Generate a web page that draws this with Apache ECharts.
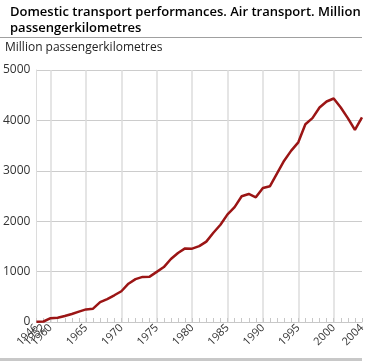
<!DOCTYPE html>
<html>
<head>
<meta charset="utf-8">
<script src="https://cdn.jsdelivr.net/npm/echarts@6/dist/echarts.min.js"></script>
<style>html,body{margin:0;padding:0;background:#fff;}#c{width:368px;height:361px;}</style>
</head>
<body>
<div id="c"></div>
<script>
var titleText = 'Domestic transport performances. Air transport. Million\npassengerkilometres';
var unitText = 'Million passengerkilometres';
var years = ['1946','1952','1960','1961','1962','1963','1964','1965','1966','1967','1968','1969','1970','1971','1972','1973','1974','1975','1976','1977','1978','1979','1980','1981','1982','1983','1984','1985','1986','1987','1988','1989','1990','1991','1992','1993','1994','1995','1996','1997','1998','1999','2000','2001','2002','2003','2004'];
var values = [5,10,75,85,120,160,205,250,265,395,455,530,610,760,850,895,900,995,1090,1250,1370,1460,1455,1505,1595,1770,1930,2135,2280,2495,2540,2475,2660,2695,2950,3200,3400,3565,3925,4045,4255,4375,4435,4255,4045,3810,4060];
var shownLabels = ['1946','1965','1970','1975','1980','1985','1990','1995','2000','2004'];
var extraLabelsA = ['1952'];
var extraLabelsB = ['1960'];
var gridYears = ['1960','1965','1970','1975','1980','1985','1990','1995','2000'];

var chart = echarts.init(document.getElementById('c'), null, {renderer:'canvas'});
var font = '"Open Sans", "Noto Sans", sans-serif';
var labelBase = {rotate: 45, fontSize: 11, color: '#333', margin: 4, fontFamily: font,
  hideOverlap: false, showMinLabel: true, showMaxLabel: true};
function labelAxis(list) {
  return {
    type: 'category',
    data: years,
    position: 'bottom',
    boundaryGap: false,
    axisLine: {show: false},
    axisTick: {show: false},
    splitLine: {show: false},
    axisLabel: Object.assign({}, labelBase, {
      showMinLabel: false, showMaxLabel: false,
      interval: function (i, v) { return list.indexOf(v) >= 0; }
    })
  };
}
chart.setOption({
  animation: false,
  backgroundColor: '#fff',
  textStyle: {fontFamily: font},
  title: {
    text: titleText,
    left: 5, top: -1,
    textStyle: {fontFamily: font, fontSize: 13, fontWeight: 600, color: '#000', lineHeight: 16}
  },
  graphic: [
    {type: 'line', shape: {x1: 0, y1: 37.5, x2: 362, y2: 37.5}, style: {stroke: '#a0a0a0', lineWidth: 1}},
    {type: 'text', left: 5, top: 42, style: {text: unitText, font: '12px ' + font, fill: '#222'}},
    {type: 'rect', shape: {x: 0, y: 358, width: 362, height: 3}, style: {fill: '#c8c8c8'}}
  ],
  grid: {left: 35, right: 6, top: 70, bottom: 39, containLabel: false},
  xAxis: [{
    type: 'category',
    data: years,
    boundaryGap: false,
    axisLine: {show: true, lineStyle: {color: '#c8c8c8', width: 1}},
    axisTick: {show: true, inside: true, length: 4, interval: 0, lineStyle: {color: '#c8c8c8'}},
    axisLabel: Object.assign({}, labelBase, {
      interval: function (i, v) { return shownLabels.indexOf(v) >= 0; }
    }),
    splitLine: {
      show: true,
      interval: function (i, v) { return gridYears.indexOf(v) >= 0; },
      lineStyle: {color: '#dcdcdc', width: 1.5}
    }
  }, labelAxis(extraLabelsA), labelAxis(extraLabelsB)],
  yAxis: {
    type: 'value', min: 0, max: 5000, interval: 1000,
    axisLine: {show: true, lineStyle: {color: '#dcdcdc', width: 1}},
    axisTick: {show: false},
    axisLabel: {fontSize: 12, color: '#333', margin: 6, fontFamily: font, formatter: function (v) { return String(v); }},
    splitLine: {show: true, lineStyle: {color: '#cccccc', width: 1}}
  },
  series: [{
    type: 'line',
    data: values,
    symbol: 'none',
    lineStyle: {color: '#9b1515', width: 2.5},
    itemStyle: {color: '#9b1515'}
  }]
});
</script>
</body>
</html>
